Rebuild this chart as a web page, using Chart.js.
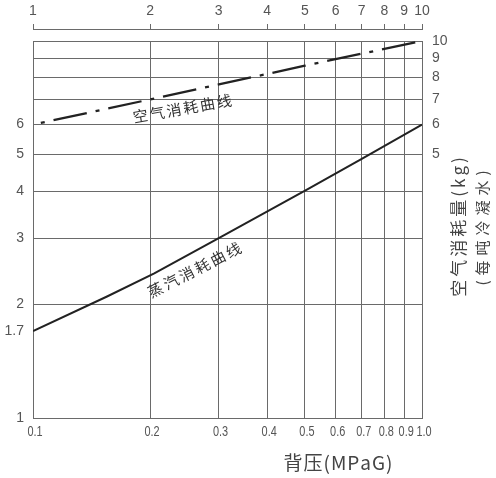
<!DOCTYPE html>
<html>
<head>
<meta charset="utf-8">
<script src="https://cdn.jsdelivr.net/npm/chart.js@4.4.0/dist/chart.umd.min.js"></script>
<style>
  html, body { margin: 0; padding: 0; background: #fff; }
  #wrap { width: 496px; height: 478px; }
</style>
</head>
<body>
<div id="wrap"><canvas id="chart"></canvas></div>
<script>
// back pressure (MPaG), bottom axis; the top axis marks the same spots as 1..10
const backPressure = [0.1, 0.2, 0.3, 0.4, 0.5, 0.6, 0.7, 0.8, 0.9, 1.0];
const bottomLabels = ['0.1', '0.2', '0.3', '0.4', '0.5', '0.6', '0.7', '0.8', '0.9', '1.0'];
const topLabels = ['1', '2', '3', '4', '5', '6', '7', '8', '9', '10'];

const leftTicks = [1, 1.7, 2, 3, 4, 5, 6];
const leftLabels = ['1', '1.7', '2', '3', '4', '5', '6'];
const rightTicks = [5, 6, 7, 8, 9, 10];
const rightLabels = ['5', '6', '7', '8', '9', '10'];

// air consumption curve (dash-dot)
const airX = [0.1, 0.2, 0.5, 1.0];
const airY = [6.0, 7.0, 8.6, 10.0];

// steam consumption curve (solid)
const steamX = [0.1, 0.155, 0.205, 0.306, 0.51, 0.70, 1.0];
const steamY = [1.7, 2.1, 2.42, 3.03, 4.05, 4.87, 6.0];

const gridGray = '#6a6a6a';
const tickGray = '#555';
const none = 'rgba(0,0,0,0)';
const tickFont = { family: "'Liberation Sans', Arial, sans-serif", size: 14 };
const cjk = "'Noto Sans CJK SC', 'Noto Sans', sans-serif";

function toPoints(xs, ys) {
    return xs.map((x, i) => ({ x: x, y: ys[i] }));
}

function setTicks(values) {
    return function (scale) {
        scale.ticks = values.map(v => ({ value: v }));
    };
}

// draw a string char by char with extra spacing, centred on (x, y)
function spacedText(ctx, text, x, y, spacing) {
    const chars = Array.from(text);
    const widths = chars.map(c => ctx.measureText(c).width);
    const total = widths.reduce((a, b) => a + b, 0) + spacing * (chars.length - 1);
    let cx = x - total / 2;
    ctx.textAlign = 'left';
    ctx.textBaseline = 'middle';
    chars.forEach((c, i) => {
        ctx.fillText(c, cx, y);
        cx += widths[i] + spacing;
    });
}

// curve labels, placed in data coordinates
const curveNotes = [
    { text: '空气消耗曲线', x: 0.242, y: 6.62, angle: -10, size: 15, spacing: 2 },
    { text: '蒸汽消耗曲线', x: 0.26, y: 2.47, angle: -27, size: 15, spacing: 2.5 }
];

const textPlugin = {
    id: 'extraText',
    afterDraw(chart) {
        const ctx = chart.ctx;
        const xs = chart.scales.x;
        const ys = chart.scales.y;
        ctx.save();

        // bottom tick labels, in a narrow face like the original
        ctx.fillStyle = tickGray;
        ctx.font = "14px 'Liberation Sans', Arial, sans-serif";
        ctx.textAlign = 'center';
        ctx.textBaseline = 'middle';
        xs.ticks.forEach((t, i) => {
            ctx.save();
            ctx.translate(xs.getPixelForTick(i) + 2, xs.top + 14);
            ctx.scale(0.78, 1);
            ctx.fillText(bottomLabels[i], 0, 0);
            ctx.restore();
        });

        ctx.fillStyle = '#333';
        curveNotes.forEach(n => {
            ctx.save();
            ctx.translate(xs.getPixelForValue(n.x), ys.getPixelForValue(n.y));
            ctx.rotate(n.angle * Math.PI / 180);
            ctx.font = n.size + 'px ' + cjk;
            spacedText(ctx, n.text, 0, 0, n.spacing);
            ctx.restore();
        });

        // x axis title
        ctx.fillStyle = '#444';
        ctx.font = '19px ' + cjk;
        spacedText(ctx, '背压(MPaG)', 338, 463, 1);

        // right axis title, reads bottom to top
        ctx.save();
        ctx.translate(459, 227);
        ctx.rotate(-Math.PI / 2);
        ctx.font = '17px ' + cjk;
        spacedText(ctx, '空气消耗量(kg)', 0, 0, 3);
        ctx.restore();

        ctx.save();
        ctx.translate(482, 228);
        ctx.rotate(-Math.PI / 2);
        ctx.font = '15px ' + cjk;
        spacedText(ctx, '(每吨冷凝水)', 0, 0, 5);
        ctx.restore();

        ctx.restore();
    }
};

new Chart(document.getElementById('chart'), {
    type: 'scatter',
    data: {
        datasets: [{
            label: '空气消耗曲线',
            data: toPoints(airX, airY),
            showLine: true,
            borderColor: '#222',
            borderWidth: 2.3,
            borderDash: [34, 9, 4, 9],
            borderDashOffset: 35,
            pointRadius: 0,
            xAxisID: 'x',
            yAxisID: 'y'
        }, {
            label: '蒸汽消耗曲线',
            data: toPoints(steamX, steamY),
            showLine: true,
            borderColor: '#222',
            borderWidth: 2,
            pointRadius: 0,
            xAxisID: 'x',
            yAxisID: 'y'
        }]
    },
    options: {
        responsive: true,
        maintainAspectRatio: false,
        animation: false,
        layout: { padding: 0 },
        plugins: {
            legend: { display: false },
            tooltip: { enabled: false }
        },
        scales: {
            x: {
                type: 'logarithmic',
                position: 'bottom',
                min: 0.1,
                max: 1.0,
                afterBuildTicks: setTicks(backPressure),
                afterFit: s => { s.height = 60; },
                ticks: { display: false, autoSkip: false, maxRotation: 0 },
                grid: {
                    drawTicks: false,
                    lineWidth: 1,
                    color: c => (c.tick && (c.tick.value === 0.1 || c.tick.value === 1.0)) ? none : gridGray
                },
                border: { display: true, color: gridGray, width: 1 }
            },
            xSpace: {
                axis: 'x',
                type: 'logarithmic',
                position: 'top',
                weight: 0,
                min: 0.1,
                max: 1.0,
                afterFit: s => { s.height = 12; },
                ticks: { display: false },
                grid: { drawOnChartArea: false, drawTicks: true, tickLength: 12, color: none },
                border: { display: true, color: gridGray, width: 1 }
            },
            xTop: {
                axis: 'x',
                type: 'logarithmic',
                position: 'top',
                weight: 1,
                min: 0.1,
                max: 1.0,
                afterBuildTicks: setTicks(backPressure),
                afterFit: s => { s.height = 29; },
                ticks: {
                    autoSkip: false,
                    maxRotation: 0,
                    padding: 4,
                    color: tickGray,
                    font: tickFont,
                    callback: (v, i) => topLabels[i]
                },
                grid: { drawOnChartArea: false, drawTicks: true, tickLength: 5, color: gridGray },
                border: { display: true, color: gridGray, width: 1 }
            },
            y: {
                type: 'logarithmic',
                position: 'left',
                min: 1,
                max: 10,
                afterBuildTicks: setTicks(leftTicks),
                afterFit: s => { s.width = 33; },
                ticks: {
                    autoSkip: false,
                    padding: 9,
                    color: tickGray,
                    font: tickFont,
                    callback: (v, i) => leftLabels[i]
                },
                grid: {
                    drawTicks: false,
                    color: c => (c.tick && (c.tick.value === 1 || c.tick.value === 1.7)) ? none : gridGray
                },
                border: { display: true, color: gridGray, width: 1 }
            },
            y2: {
                axis: 'y',
                type: 'logarithmic',
                position: 'right',
                min: 1,
                max: 10,
                afterBuildTicks: setTicks(rightTicks),
                afterFit: s => { s.width = 74; },
                ticks: {
                    autoSkip: false,
                    padding: 10,
                    color: tickGray,
                    font: tickFont,
                    callback: (v, i) => rightLabels[i]
                },
                grid: {
                    drawTicks: false,
                    color: c => (c.tick && (c.tick.value === 5 || c.tick.value === 6)) ? none : gridGray
                },
                border: { display: true, color: gridGray, width: 1 }
            }
        }
    },
    plugins: [textPlugin]
});
</script>
</body>
</html>
